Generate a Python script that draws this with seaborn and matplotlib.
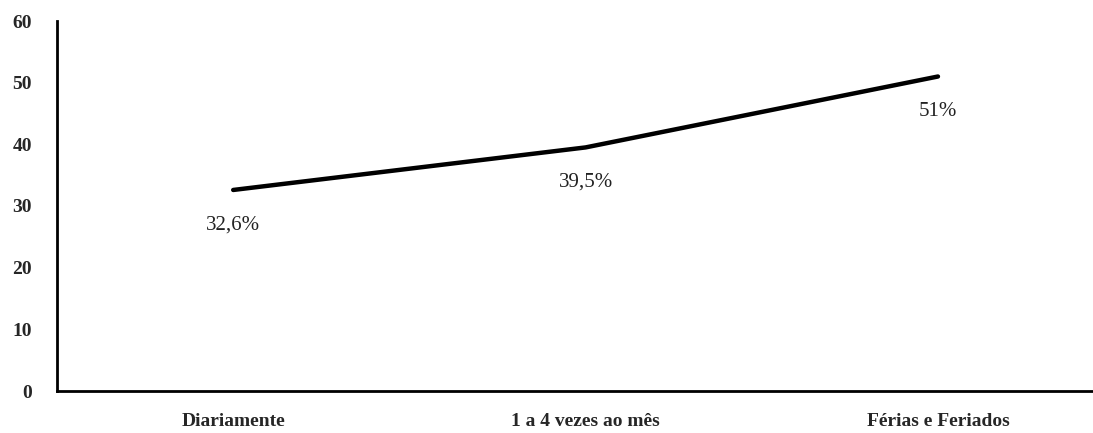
import matplotlib
matplotlib.use("Agg")
import matplotlib.pyplot as plt
import seaborn as sns
import pandas as pd

categories = ["Diariamente", "1 a 4 vezes ao mês", "Férias e Feriados"]
values = [32.6, 39.5, 51.0]
value_labels = ["32,6%", "39,5%", "51%"]
y_ticks = [0, 10, 20, 30, 40, 50, 60]

sns.set_theme(style="white")
plt.rcParams["font.family"] = ["Liberation Serif", "DejaVu Serif"]

df = pd.DataFrame({"pos": range(len(categories)), "valor": values})

fig = plt.figure(figsize=(10.93, 4.33), dpi=100)
ax = fig.add_axes([57 / 1093, 42 / 433, 1 - 57 / 1093, (391 - 21) / 433])

sns.lineplot(data=df, x="pos", y="valor", color="black", linewidth=3.2, ax=ax)

for x, y, lab in zip(df["pos"], df["valor"], value_labels):
    ax.annotate(lab, (x, y), xytext=(0, -25), textcoords="offset points",
                ha="center", va="center", fontsize=15, color="#222222")

ax.set_xlim(-0.5, 2.44)
ax.set_ylim(0, 60)
ax.set_yticks(y_ticks)
ax.set_yticklabels([str(t) for t in y_ticks], fontsize=14, fontweight="bold")
ax.set_xticks(df["pos"])
ax.set_xticklabels(categories, fontsize=14, fontweight="bold")
ax.tick_params(axis="both", length=0)
ax.tick_params(axis="y", pad=18)
ax.tick_params(axis="x", pad=16)
ax.set_xlabel("")
ax.set_ylabel("")

for side in ["top", "right"]:
    ax.spines[side].set_visible(False)
for side in ["left", "bottom"]:
    ax.spines[side].set_color("black")
    ax.spines[side].set_linewidth(2)

fig.savefig("out.png", dpi=100)
